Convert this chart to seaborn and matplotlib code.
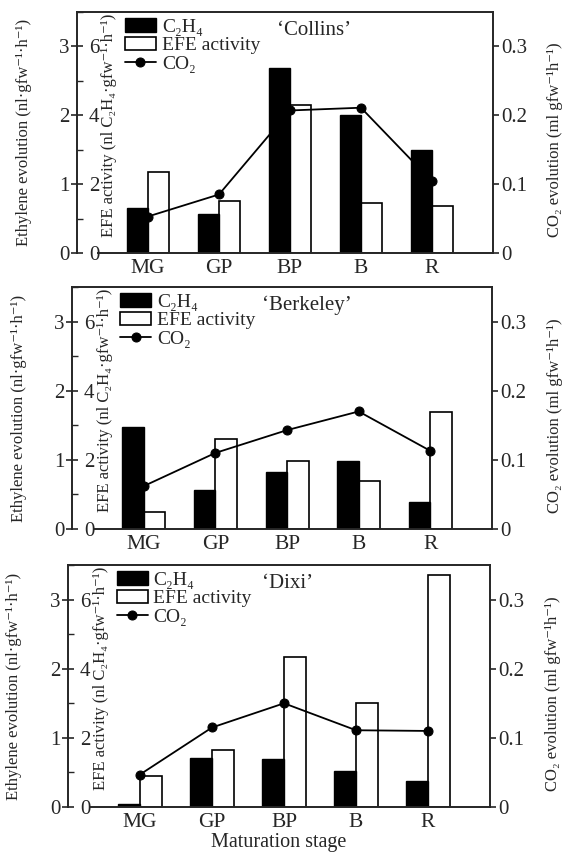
import numpy as np
import matplotlib
matplotlib.use('Agg')
import matplotlib.pyplot as plt
from matplotlib.ticker import MultipleLocator
import seaborn as sns

# data
stages = ['MG', 'GP', 'BP', 'B', 'R']
cultivars = ['‘Collins’', '‘Berkeley’', '‘Dixi’']

c2h4_collins = [0.66, 0.56, 2.68, 2.0, 1.5]
efe_collins = [2.34, 1.5, 4.3, 1.45, 1.36]
co2_collins = [0.053, 0.085, 0.207, 0.211, 0.104]

c2h4_berkeley = [1.48, 0.56, 0.82, 0.99, 0.39]
efe_berkeley = [0.5, 2.6, 1.97, 1.4, 3.37]
co2_berkeley = [0.062, 0.11, 0.143, 0.17, 0.113]

c2h4_dixi = [0.05, 0.71, 0.69, 0.52, 0.38]
efe_dixi = [0.9, 1.64, 4.33, 3.02, 6.72]
co2_dixi = [0.047, 0.115, 0.15, 0.111, 0.11]

c2h4_all = [c2h4_collins, c2h4_berkeley, c2h4_dixi]
efe_all = [efe_collins, efe_berkeley, efe_dixi]
co2_all = [co2_collins, co2_berkeley, co2_dixi]

sns.set_style('ticks')
plt.rcParams['font.family'] = ['Liberation Serif', 'DejaVu Serif']
plt.rcParams['axes.linewidth'] = 1.4

W, H = 576, 861
fig = plt.figure(figsize=(W / 100, H / 100), dpi=100)

# panel frames in pixels: left, right, top, bottom
frames = [(77, 493, 12, 253), (72, 492, 287, 529), (68, 490, 565, 807)]
title_x = [0.57, 0.56, 0.52]

pos = np.arange(len(stages))
bw = 0.3
xmin, xmax = -1.0, 4.86

for i in range(3):
    l, r, t, b = frames[i]
    ax = fig.add_axes([l / W, 1 - b / H, (r - l) / W, (b - t) / H])
    ax_co2 = ax.twinx()
    ax_efe = ax.twinx()
    ax.set_zorder(3)
    ax.patch.set_visible(False)
    ax_co2.set_zorder(2)
    ax_efe.set_zorder(1)

    # CO2 line
    sns.lineplot(x=pos, y=co2_all[i], ax=ax_co2, color='black', marker='o',
                 markersize=6.5, linewidth=1.3, markeredgecolor='black')
    # EFE hollow bars
    sns.barplot(x=pos + bw / 2, y=efe_all[i], native_scale=True, width=bw,
                fill=False, color='black', linewidth=1.2, ax=ax_efe,
                errorbar=None)
    # ethylene black bars
    sns.barplot(x=pos - bw / 2, y=c2h4_all[i], native_scale=True, width=bw,
                color='black', saturation=1, edgecolor='black', linewidth=1.0,
                ax=ax, errorbar=None)

    for a in (ax, ax_co2, ax_efe):
        a.set_xlim(xmin, xmax)

    # ethylene axis
    ax.set_ylim(0, 3.5)
    ax.set_yticks([0, 1, 2, 3])
    ax.yaxis.set_minor_locator(MultipleLocator(0.5))
    ax.tick_params(axis='y', which='major', direction='inout', length=9,
                   width=1.2, labelsize=15, pad=1)
    ax.tick_params(axis='y', which='minor', direction='in', length=4, width=1.0)
    ax.set_xticks(pos)
    ax.set_xticklabels(stages)
    ax.tick_params(axis='x', length=0, labelsize=15.5, pad=4)
    ax.spines['bottom'].set_bounds(-0.7, xmax)
    ax.set_ylabel('Ethylene evolution (nl·gfw⁻¹·h⁻¹)', fontsize=12)
    ax.yaxis.set_label_coords(-0.108, 0.5)
    ax.set_xlabel('')

    # EFE axis, labels inside the frame
    ax_efe.set_ylim(0, 7)
    ax_efe.set_yticks([0, 2, 4, 6])
    ax_efe.yaxis.set_ticks_position('left')
    ax_efe.yaxis.set_label_position('left')
    ax_efe.tick_params(axis='y', direction='in', length=0, labelsize=15,
                       pad=-16)
    for s in ax_efe.spines.values():
        s.set_visible(False)
    ax_efe.set_ylabel('EFE activity (nl C₂H₄·gfw⁻¹·h⁻¹)', fontsize=12)
    ax_efe.yaxis.set_label_coords(0.097, 0.53)
    ax_efe.tick_params(axis='x', length=0, labelbottom=False)

    # CO2 axis
    ax_co2.set_ylim(0, 0.35)
    ax_co2.set_yticks([0, 0.1, 0.2, 0.3])
    ax_co2.set_yticklabels(['0', '0.1', '0.2', '0.3'])
    ax_co2.tick_params(axis='y', direction='out', length=4, width=1.2,
                       labelsize=15, pad=2)
    for s in ax_co2.spines.values():
        s.set_visible(False)
    ax_co2.set_ylabel('CO₂ evolution (ml gfw⁻¹h⁻¹)', fontsize=12)
    ax_co2.yaxis.set_label_coords(1.13, 0.47)
    ax_co2.tick_params(axis='x', length=0, labelbottom=False)

    ax.text(title_x[i], 0.925, cultivars[i], transform=ax.transAxes,
            ha='center', va='center', fontsize=15)

    ax.legend([ax.containers[0], ax_efe.containers[0], ax_co2.lines[0]],
              ['C₂H₄', 'EFE activity', 'CO₂'], loc='upper left',
              bbox_to_anchor=(0.115, 0.975), frameon=False, fontsize=14,
              handlelength=1.6, handletextpad=0.3, labelspacing=0.05,
              borderpad=0, borderaxespad=0)

    if i == 2:
        ax.set_xlabel('Maturation stage', fontsize=14.5, labelpad=1)

fig.savefig('out.png', dpi=100)
